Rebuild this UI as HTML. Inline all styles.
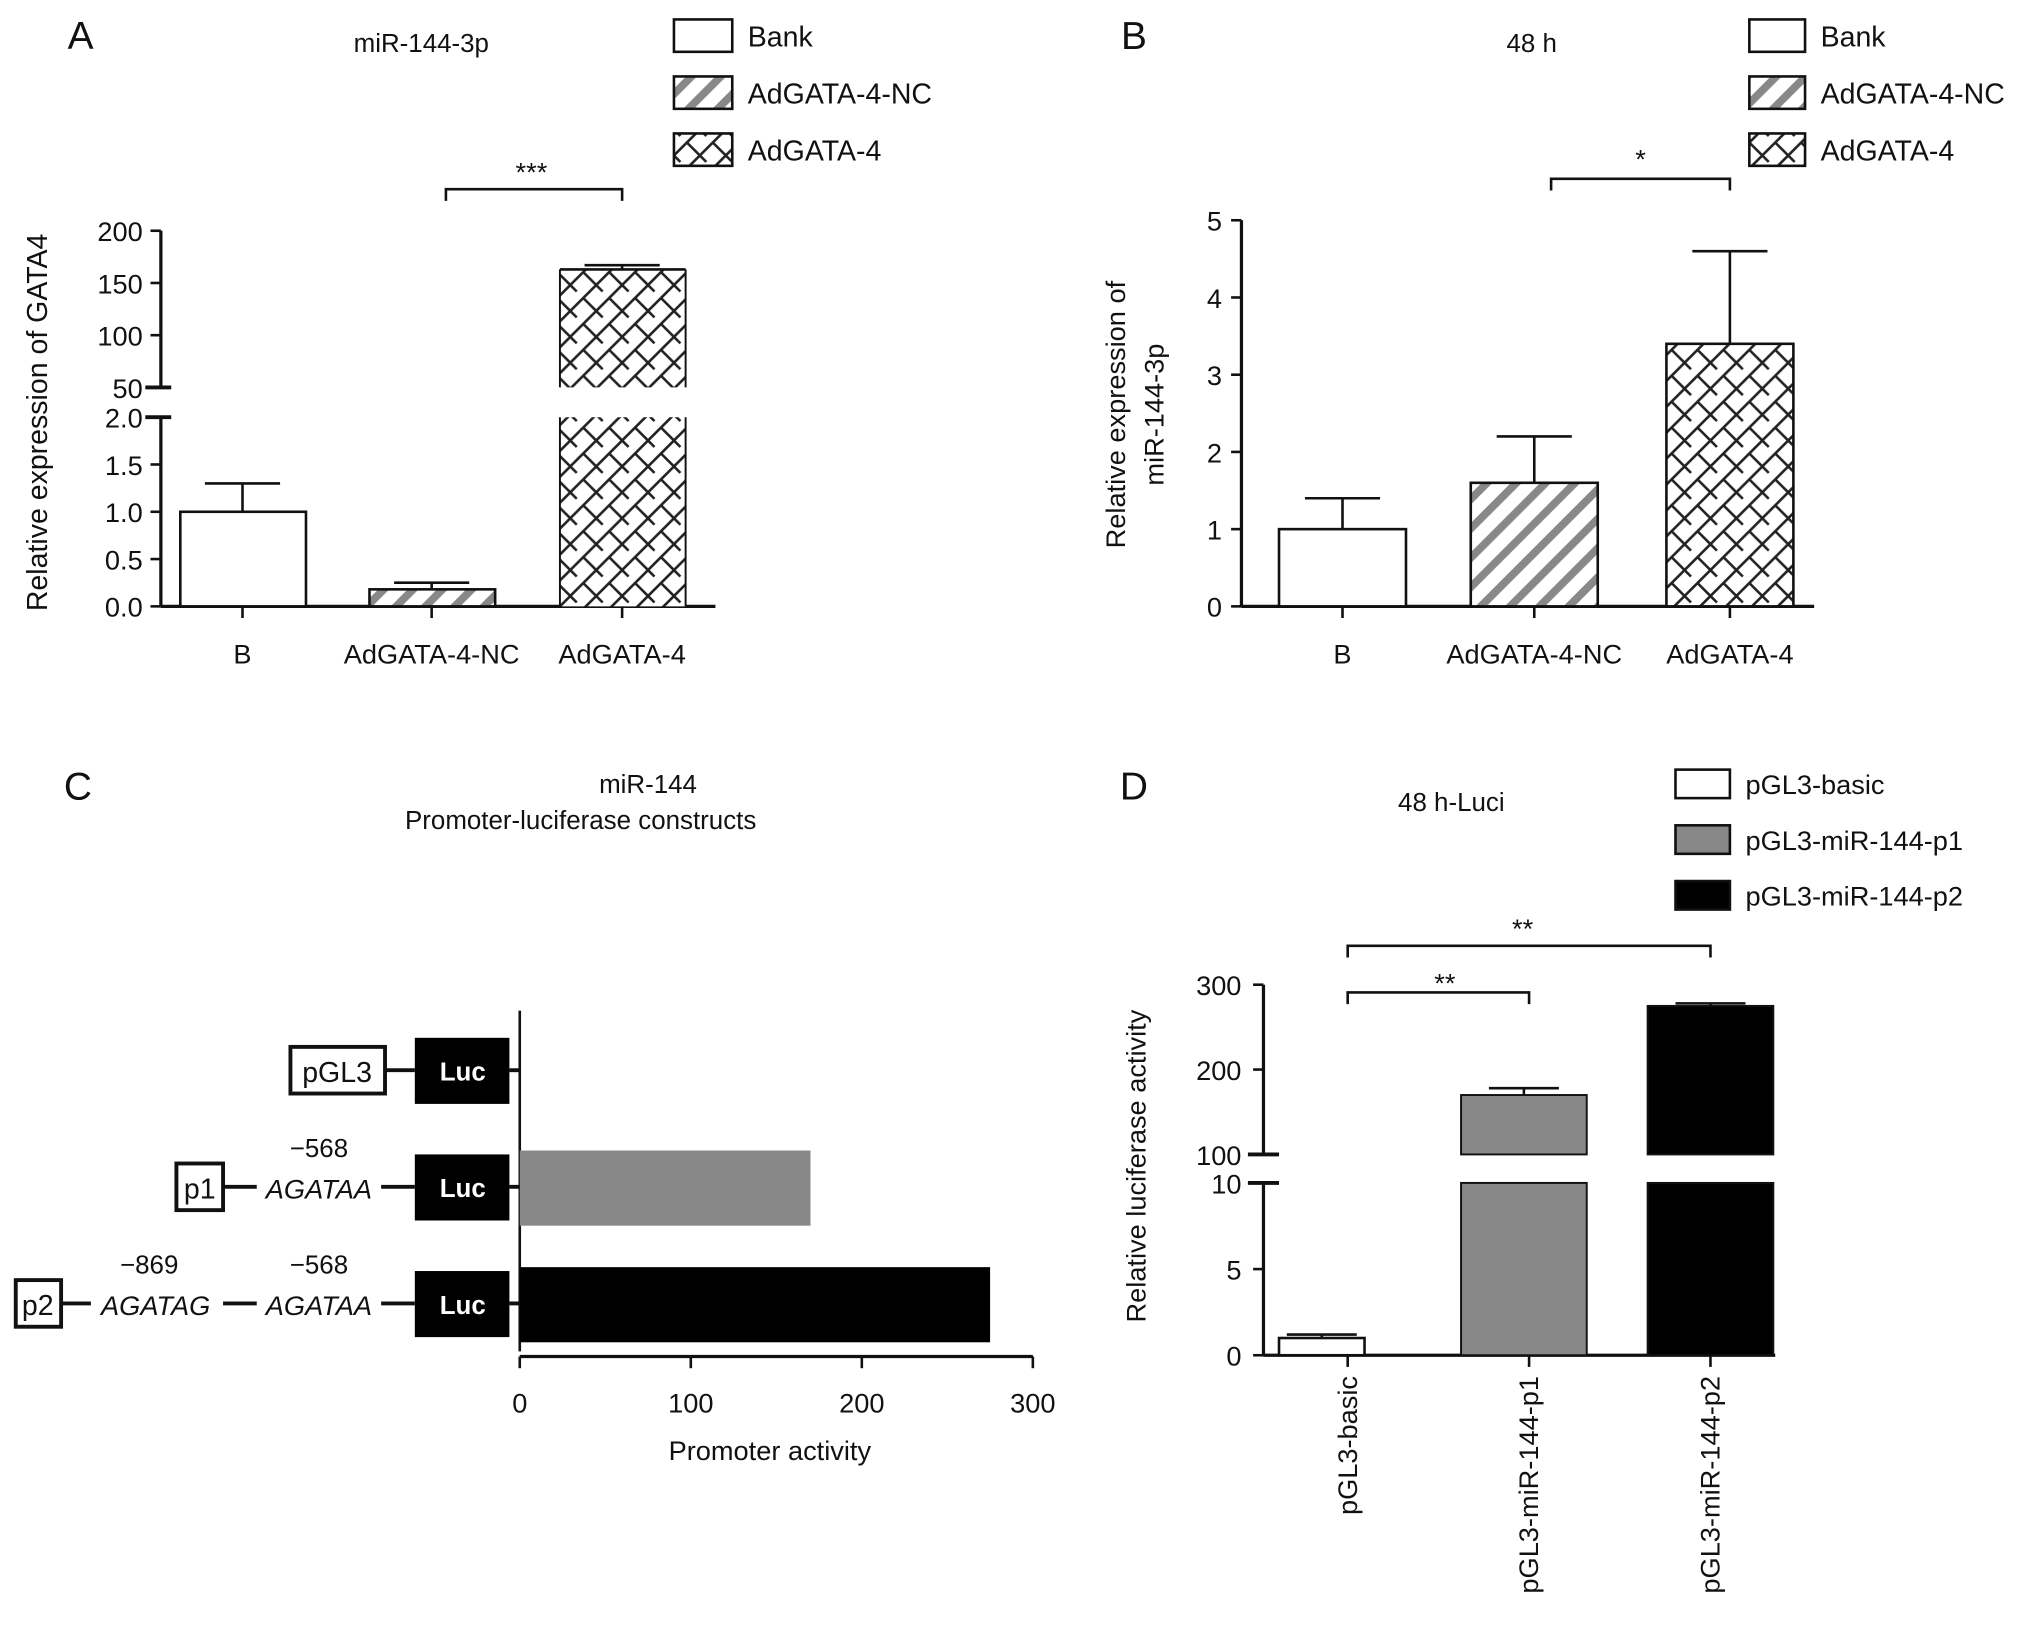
<!DOCTYPE html>
<html><head><meta charset="utf-8"><style>
html,body{margin:0;padding:0;background:#fff}
svg{display:block}
text{font-family:"Liberation Sans",Arial,sans-serif;fill:#111}
</style></head><body>
<svg id="fig" width="2032" height="1639" viewBox="0 0 1568 1265" xmlns="http://www.w3.org/2000/svg">
<defs>
<pattern id="stripe" patternUnits="userSpaceOnUse" width="16" height="16" patternTransform="rotate(45)">
<rect width="16" height="16" fill="#fff"/><rect x="0" y="0" width="6" height="16" fill="#888"/></pattern>
<pattern id="brick" patternUnits="userSpaceOnUse" width="20" height="20">
<rect width="20" height="20" fill="#fff"/>
<path d="M0,20 L20,0 M-5,5 L5,-5 M15,25 L25,15" stroke="#222" stroke-width="2"/>
<path d="M10,10 L20,20 M0,0 L5,5" stroke="#222" stroke-width="2"/>
</pattern>
</defs>
<g id="root"></g>
</svg>
<script>
// Panel A data
const catsA = ["B","AdGATA-4-NC","AdGATA-4"];
const valsA = [1.0, 0.18, 163];
const errA = [0.3, 0.07, 4];
const ticksALow = [0,0.5,1.0,1.5,2.0];
const ticksAHigh = [50,100,150,200];
// Panel B data
const catsB = ["B","AdGATA-4-NC","AdGATA-4"];
const valsB = [1.0, 1.6, 3.4];
const errB = [0.4, 0.6, 1.2];
const ticksB = [0,1,2,3,4,5];
// Panel C data
const catsC = ["pGL3","p1","p2"];
const valsC = [0, 170, 275];
const ticksC = [0,100,200,300];
// Panel D data
const catsD = ["pGL3-basic","pGL3-miR-144-p1","pGL3-miR-144-p2"];
const valsD = [1, 170, 275];
const errD = [0.2, 8, 3];
const ticksDLow = [0,5,10];
const ticksDHigh = [100,200,300];

const NS="http://www.w3.org/2000/svg";
const root=document.getElementById('root');
function el(tag,attrs,parent){const e=document.createElementNS(NS,tag);for(const k in attrs)e.setAttribute(k,attrs[k]);(parent||root).appendChild(e);return e;}
function txt(x,y,s,size,anchor,extra){const t=el('text',Object.assign({x:x,y:y,'font-size':size,'text-anchor':anchor||'middle'},extra||{}));t.textContent=s;return t;}
function line(x1,y1,x2,y2,w){return el('line',{x1,y1,x2,y2,stroke:'#111','stroke-width':w||2});}

// ---------- Panel A ----------
let t;
t=txt(62,38,"A",30,'middle');
t=txt(325,40,"miR-144-3p",20);
const yAL=v=>468-v*73, yAH=v=>299-(v-50)*0.806;
const yA=v=>v<=2?yAL(v):yAH(v);
line(124,468,124,322,2.5);line(124,299,124,178,2.5);
ticksALow.forEach(v=>{line(116,yAL(v),124,yAL(v));t=txt(110,yAL(v)+8,v.toFixed(1),21,'end');});
ticksAHigh.forEach(v=>{line(116,yAH(v),124,yAH(v));t=txt(110,yAH(v)+8,String(v),21,'end');});
line(112,322,132,322,3);line(112,299,132,299,3);
line(124,468,552,468,2.5);
t=txt(0,0,"Relative expression of GATA4",22,'middle',{transform:'translate(36,326) rotate(-90)'});
const cxA=[187,333,480], fillsA=['#fff','url(#stripe)','url(#brick)'];
catsA.forEach((c,i)=>{
  const v=valsA[i],x=cxA[i]-48;
  let r;
  if(v<=2){r=el('rect',{x:x,y:yA(v),width:97,height:468-yA(v),fill:fillsA[i],stroke:'#111','stroke-width':2});}
  else{r=el('rect',{x:x,y:yAL(2),width:97,height:468-yAL(2),fill:fillsA[i],stroke:'none'});
    
    r=el('rect',{x:x,y:yAH(v),width:97,height:299-yAH(v),fill:fillsA[i],stroke:'none'});
    line(x,yAH(v),x+97,yAH(v));line(x,yAH(v),x,299,1.5);line(x+97,yAH(v),x+97,299,1.5);line(x,yAL(2),x,468,1.5);line(x+97,yAL(2),x+97,468,1.5);}
  
  const ye=yA(v+errA[i]);line(cxA[i],yA(v),cxA[i],ye);line(cxA[i]-29,ye,cxA[i]+29,ye);
  line(cxA[i],468,cxA[i],477);
  t=txt(cxA[i],512,c,21);
});
el('path',{d:'M344,155 V146 H480 V155',fill:'none',stroke:'#111','stroke-width':2});
t=txt(410,140,"***",21);
const legA=["Bank","AdGATA-4-NC","AdGATA-4"],legAF=['#fff','url(#stripe)','url(#brick)'];
legA.forEach((s,i)=>{const y=15+i*44;let r=el('rect',{x:520,y:y,width:45,height:25,fill:legAF[i],stroke:'#111','stroke-width':2});
 t=txt(577,y+21,s,22,'start');});

// ---------- Panel B ----------
t=txt(875,38,"B",30);
t=txt(1182,40,"48 h",20);
const yB=v=>468-v*59.6;
line(958,468,958,170,2.5);line(958,468,1400,468,2.5);
ticksB.forEach(v=>{line(950,yB(v),958,yB(v));t=txt(943,yB(v)+8,String(v),21,'end');});
t=txt(0,0,"Relative expression of",21,'middle',{transform:'translate(868,320) rotate(-90)'});
t=txt(0,0,"miR-144-3p",21,'middle',{transform:'translate(898,320) rotate(-90)'});
const cxB=[1036,1184,1335];
catsB.forEach((c,i)=>{const v=valsB[i],x=cxB[i]-49;
 let r=el('rect',{x:x,y:yB(v),width:98,height:468-yB(v),fill:fillsA[i],stroke:'#111','stroke-width':2});
 
 const ye=yB(v+errB[i]);line(cxB[i],yB(v),cxB[i],ye);line(cxB[i]-29,ye,cxB[i]+29,ye);
 line(cxB[i],468,cxB[i],477);
 t=txt(cxB[i],512,c,21);});
el('path',{d:'M1197,147 V138 H1335 V147',fill:'none',stroke:'#111','stroke-width':2});
t=txt(1266,130,"*",21);
legA.forEach((s,i)=>{const y=15+i*44;let r=el('rect',{x:1350,y:y,width:43,height:25,fill:legAF[i],stroke:'#111','stroke-width':2});
 t=txt(1405,y+21,s,22,'start');});

// ---------- Panel C ----------
t=txt(60,617,"C",30);
t=txt(500,612,"miR-144",20);
t=txt(448,640,"Promoter-luciferase constructs",20);
const xC=v=>401+v*1.32;
line(401,780,401,1043,2);line(401,1047,797,1047,2.5);
ticksC.forEach(v=>{line(xC(v),1047,xC(v),1056);t=txt(xC(v),1090,String(v),21);});
t=txt(594,1127,"Promoter activity",21);
const rowC=[826,916,1006],colC=['#fff','#888','#000'];
catsC.forEach((c,i)=>{const v=valsC[i],y=rowC[i];
 if(v>0){let r=el('rect',{x:401,y:y-28,width:xC(v)-401,height:58,fill:colC[i]});}
 let r=el('rect',{x:320,y:y-25,width:73,height:51,fill:'#000'});
 t=txt(357,y+8,"Luc",20,'middle',{'font-family':'Liberation Serif',style:'fill:#fff;font-weight:bold'});
 line(393,y,401,y,3);});
line(297,826,320,826,3);
let b=el('rect',{x:224,y:808,width:73,height:36,fill:'#fff',stroke:'#111','stroke-width':3});
t=txt(260,835,"pGL3",22);
b=el('rect',{x:136,y:898,width:36,height:36,fill:'#fff',stroke:'#111','stroke-width':3});
t=txt(154,925,"p1",22);
line(172,916,198,916,3);line(294,916,320,916,3);
t=txt(246,925,"AGATAA",21,'middle',{'font-style':'italic'});
t=txt(246,893,"\u2212568",20);
b=el('rect',{x:12,y:988,width:35,height:36,fill:'#fff',stroke:'#111','stroke-width':3});
t=txt(29,1015,"p2",22);
line(47,1006,70,1006,3);line(172,1006,198,1006,3);line(294,1006,320,1006,3);
t=txt(120,1015,"AGATAG",21,'middle',{'font-style':'italic'});
t=txt(246,1015,"AGATAA",21,'middle',{'font-style':'italic'});
t=txt(115,983,"\u2212869",20);
t=txt(246,983,"\u2212568",20);

// ---------- Panel D ----------
t=txt(875,617,"D",30);
t=txt(1120,626,"48 h-Luci",20);
const yDL=v=>1046-v*13.3, yDH=v=>891-(v-100)*0.655;
const yD=v=>v<=10?yDL(v):yDH(v);
line(975,1046,975,913,2.5);line(975,891,975,760,2.5);line(975,1046,1370,1046,2.5);
line(963,913,987,913,3);line(963,891,987,891,3);
ticksDLow.forEach(v=>{line(967,yDL(v),975,yDL(v));t=txt(958,yDL(v)+8,String(v),21,'end');});
ticksDHigh.forEach(v=>{line(967,yDH(v),975,yDH(v));t=txt(958,yDH(v)+8,String(v),21,'end');});
t=txt(0,0,"Relative luciferase activity",21,'middle',{transform:'translate(884,900) rotate(-90)'});
const cxD=[1020,1176,1320],wD=[66,97,97],tkD=[1040,1180,1320],colD=['#fff','#888','#000'];
catsD.forEach((c,i)=>{const v=valsD[i],x=cxD[i]-wD[i]/2;let r;
 if(v<=10){r=el('rect',{x:x,y:yD(v),width:wD[i],height:1046-yD(v),fill:colD[i],stroke:'#111','stroke-width':2});}
 else{r=el('rect',{x:x,y:yDL(10),width:wD[i],height:1046-yDL(10),fill:colD[i],stroke:'#111','stroke-width':1.5});
  
  r=el('rect',{x:x,y:yDH(v),width:wD[i],height:891-yDH(v),fill:colD[i],stroke:'#111','stroke-width':1.5});}
 
 const ye=yD(v+errD[i]);line(cxD[i],yD(v),cxD[i],ye);line(cxD[i]-27,ye,cxD[i]+27,ye);
 line(tkD[i],1046,tkD[i],1055);
 t=txt(0,0,c,21,'end',{transform:'translate('+(tkD[i]+7)+',1062) rotate(-90)'});});
el('path',{d:'M1040,775 V766 H1180 V775',fill:'none',stroke:'#111','stroke-width':2});
t=txt(1115,766,"**",21);
el('path',{d:'M1040,739 V730 H1320 V739',fill:'none',stroke:'#111','stroke-width':2});
t=txt(1175,724,"**",21);
catsD.forEach((s,i)=>{const y=594+i*43;let r=el('rect',{x:1293,y:y,width:42,height:22,fill:colD[i],stroke:'#111','stroke-width':2});
 t=txt(1347,y+19,s,21,'start');});
</script>
</body></html>
